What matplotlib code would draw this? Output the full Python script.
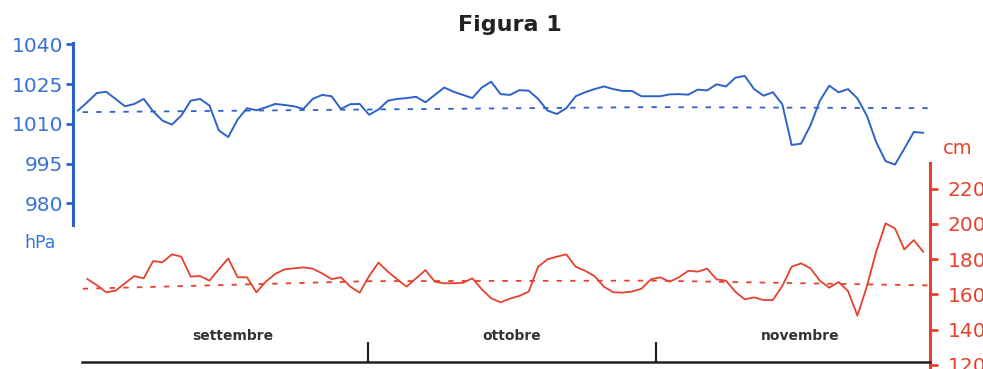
"""
Script: figura1.py

Description:
    Pressione atmosferica (hPa) e livello di marea (cm),
    settembre - novembre, con linee di tendenza tratteggiate.
"""

#%% -------- IMPORTS --------
import numpy as np
import matplotlib
matplotlib.use("Agg")
import matplotlib.pyplot as plt

#%% -------- DATA --------

# Daily pressure, hPa (1 Sep .. 30 Nov)
pressure = [
    1015.0, 1018.2, 1021.6, 1022.1, 1019.4, 1016.6, 1017.5, 1019.4, 1014.7, 1011.2,
    1009.7, 1013.1, 1018.7, 1019.4, 1016.9, 1007.5, 1005.0, 1011.6, 1015.9, 1015.1,
    1016.2, 1017.5, 1017.1, 1016.6, 1015.6, 1019.4, 1020.9, 1020.4, 1015.6, 1017.4,
    1017.5, 1013.4, 1015.4, 1018.7, 1019.4, 1019.7, 1020.2, 1018.1, 1020.9, 1023.7,
    1022.1, 1020.9, 1019.7, 1023.7, 1025.9, 1021.2, 1020.9, 1022.7, 1022.5, 1019.4,
    1015.0, 1013.7, 1015.9, 1020.4, 1021.9, 1023.1, 1024.1, 1023.1, 1022.4, 1022.4,
    1020.4, 1020.4, 1020.4, 1021.1, 1021.2, 1021.0, 1022.9, 1022.6, 1024.9, 1024.1,
    1027.4, 1028.1, 1023.1, 1020.6, 1021.9, 1017.4, 1002.0, 1002.5, 1009.4, 1018.7,
    1024.4, 1021.9, 1023.1, 1019.6, 1013.1, 1003.1, 995.9, 994.6, 1000.6, 1006.9,
    1006.6,
]

# Daily tide level, cm
tide = [
    168.7, 165.3, 161.2, 162.1, 166.3, 170.4, 169.1, 178.9, 178.2, 182.7,
    181.4, 170.1, 170.4, 167.8, 174.2, 180.4, 169.7, 169.7, 161.2, 167.2,
    171.6, 174.2, 174.8, 175.3, 174.6, 171.9, 168.7, 169.7, 164.4, 161.0,
    170.4, 178.0, 172.9, 168.5, 164.4, 169.1, 173.8, 167.2, 166.3, 166.3,
    166.6, 169.1, 162.9, 157.8, 155.5, 157.6, 159.1, 161.6, 175.7, 179.9,
    181.4, 182.7, 175.7, 173.4, 170.4, 164.4, 161.2, 161.0, 161.6, 163.2,
    168.5, 169.7, 167.2, 169.7, 173.4, 172.9, 174.6, 168.5, 167.8, 161.5,
    157.2, 158.3, 156.8, 156.8, 164.8, 175.7, 177.6, 174.8, 167.8, 163.8,
    167.0, 161.9, 147.9, 164.4, 184.2, 200.3, 197.4, 185.5, 190.8, 184.2,
]

# Trend lines (dashed)
trend_days = [0.5, 31, 61, 90.5]
pressure_trend = [1014.4, 1015.4, 1016.3, 1015.9]
tide_trend = [163.2, 167.5, 167.8, 165.1]

months = ['settembre', 'ottobre', 'novembre']
month_mid = [16.5, 46.2, 76.9]
month_edges = [30.9, 61.55]

p_ticks = [980, 995, 1010, 1025, 1040]
h_ticks = [120, 140, 160, 180, 200, 220]

#%% -------- STYLE --------

blue = '#2f62c8'
blue_txt = '#3a72d4'
red = '#e6412f'
dark = '#222222'

W, H = 983, 369
x_lim = (-0.53, 90.73)

days_p = np.arange(len(pressure))
days_h = np.arange(1, len(tide) + 1)

fig = plt.figure(figsize=(W / 100, H / 100), dpi=100)

#%% -------- PRESSURE AXES --------

ax_p = fig.add_axes([73 / W, (H - 225) / H, 857 / W, 182 / H])
ax_p.patch.set_visible(False)
ax_p.plot(days_p, pressure, color=blue, lw=1.4)
ax_p.plot(trend_days, pressure_trend, color=blue, lw=1.3, linestyle=(0, (3, 4.5)))
ax_p.set_xlim(*x_lim)
ax_p.set_ylim(971.8, 1040.5)
for s in ['top', 'right', 'bottom']:
    ax_p.spines[s].set_visible(False)
ax_p.spines['left'].set_color(blue)
ax_p.spines['left'].set_linewidth(2.2)
ax_p.set_xticks([])
ax_p.set_yticks(p_ticks)
ax_p.tick_params(axis='y', colors=blue, length=5, width=2, labelsize=14.5,
                 labelcolor=blue_txt, pad=2)
fig.text(40 / W, 1 - 243 / H, 'hPa', color=blue_txt, fontsize=12.5,
         ha='center', va='center')

#%% -------- TIDE AXES --------

ax_h = fig.add_axes([73 / W, 0, 857 / W, 206 / H])
ax_h.patch.set_visible(False)
ax_h.plot(days_h, tide, color=red, lw=1.3)
ax_h.plot(trend_days, tide_trend, color=red, lw=1.3, linestyle=(0, (3, 4.5)))
ax_h.set_xlim(*x_lim)
ax_h.set_ylim(117.7, 234.5)
for s in ['top', 'left', 'bottom']:
    ax_h.spines[s].set_visible(False)
ax_h.spines['right'].set_color(red)
ax_h.spines['right'].set_linewidth(2.2)
ax_h.set_xticks([])
ax_h.yaxis.tick_right()
ax_h.set_yticks(h_ticks)
ax_h.tick_params(axis='y', colors=red, length=5.5, width=2, labelsize=14.5,
                 labelcolor=red, pad=7)
fig.text(958 / W, 1 - 148 / H, 'cm', color=red, fontsize=14,
         ha='center', va='center')

#%% -------- MONTH STRIP --------

ax_m = fig.add_axes([73 / W, 7 / H, 857 / W, 30 / H])
ax_m.patch.set_visible(False)
ax_m.set_xlim(*x_lim)
ax_m.set_ylim(0, 1)
for s in ['top', 'left', 'right']:
    ax_m.spines[s].set_visible(False)
ax_m.spines['bottom'].set_bounds(0.43, x_lim[1])
ax_m.spines['bottom'].set_linewidth(1.8)
ax_m.spines['bottom'].set_color(dark)
ax_m.set_yticks([])
ax_m.set_xticks(month_edges)
ax_m.tick_params(axis='x', direction='in', length=14.5, width=1.6,
                 color=dark, labelbottom=False)
for name, xm in zip(months, month_mid):
    ax_m.text(xm, 0.87, name, ha='center', va='center', fontsize=10,
              fontweight='bold', color='#333333')

#%% -------- TITLE --------

fig.text(510 / W, 1 - 25 / H, 'Figura 1', ha='center', va='center',
         fontsize=16, fontweight='bold', color=dark)

fig.savefig('out.png', dpi=100)
